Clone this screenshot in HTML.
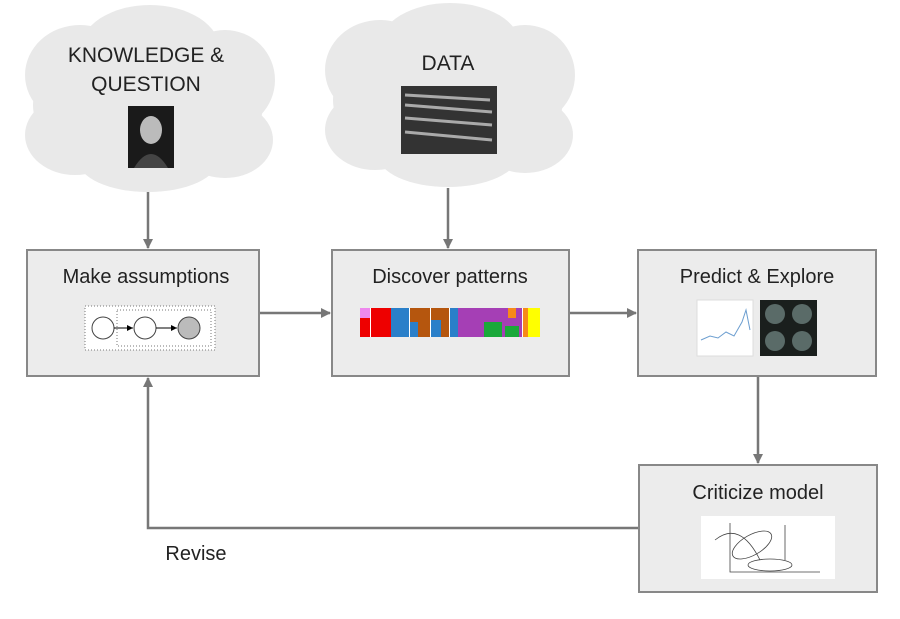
<!DOCTYPE html>
<html><head><meta charset="utf-8"><style>
body{margin:0;background:#fff;}
svg{display:block;font-family:"Liberation Sans",sans-serif;}
</style></head><body>
<svg width="900" height="619" viewBox="0 0 900 619">
<defs>
<marker id="ah" markerWidth="10" markerHeight="10" refX="9" refY="5" orient="auto" markerUnits="userSpaceOnUse"><path d="M0,0 L10,5 L0,10 z" fill="#777"/></marker>
<marker id="sa" markerWidth="6" markerHeight="6" refX="6" refY="3" orient="auto" markerUnits="userSpaceOnUse"><path d="M0,0 L6,3 L0,6 z" fill="#000"/></marker>
</defs>
<!-- clouds -->
<g fill="#e9e9e9">
<ellipse cx="148" cy="105" rx="115" ry="70"/>
<ellipse cx="80" cy="75" rx="55" ry="50"/>
<ellipse cx="150" cy="50" rx="70" ry="45"/>
<ellipse cx="225" cy="80" rx="50" ry="50"/>
<ellipse cx="75" cy="135" rx="50" ry="40"/>
<ellipse cx="148" cy="160" rx="70" ry="32"/>
<ellipse cx="225" cy="140" rx="48" ry="38"/>
<ellipse cx="448" cy="100" rx="115" ry="70"/>
<ellipse cx="380" cy="70" rx="55" ry="50"/>
<ellipse cx="450" cy="45" rx="70" ry="42"/>
<ellipse cx="525" cy="75" rx="50" ry="50"/>
<ellipse cx="375" cy="130" rx="50" ry="40"/>
<ellipse cx="448" cy="155" rx="70" ry="32"/>
<ellipse cx="525" cy="135" rx="48" ry="38"/>
</g>
<text x="146" y="62" font-size="21" text-anchor="middle" fill="#222">KNOWLEDGE &amp;</text>
<text x="146" y="91" font-size="21" text-anchor="middle" fill="#222">QUESTION</text>
<rect x="128" y="106" width="46" height="62" fill="#1a1a1a"/>
<ellipse cx="151" cy="130" rx="11" ry="14" fill="#bbb"/>
<path d="M134,168 Q151,140 168,168z" fill="#444"/>
<text x="448" y="70" font-size="21" text-anchor="middle" fill="#222">DATA</text>
<rect x="401" y="86" width="96" height="68" fill="#333"/>
<path d="M405,95 L490,100 M405,105 L492,112 M405,118 L492,125 M405,132 L492,140" stroke="#aaa" stroke-width="3"/>
<!-- arrows -->
<g stroke="#777" stroke-width="2.5" fill="none">
<line x1="148" y1="192" x2="148" y2="248" marker-end="url(#ah)"/>
<line x1="448" y1="188" x2="448" y2="248" marker-end="url(#ah)"/>
<line x1="260" y1="313" x2="330" y2="313" marker-end="url(#ah)"/>
<line x1="570" y1="313" x2="636" y2="313" marker-end="url(#ah)"/>
<line x1="758" y1="377" x2="758" y2="463" marker-end="url(#ah)"/>
<polyline points="638,528 148,528 148,378" marker-end="url(#ah)"/>
</g>
<!-- boxes -->
<g fill="#ececec" stroke="#888" stroke-width="2">
<rect x="27" y="250" width="232" height="126"/>
<rect x="332" y="250" width="237" height="126"/>
<rect x="638" y="250" width="238" height="126"/>
<rect x="639" y="465" width="238" height="127"/>
</g>
<g font-size="20" text-anchor="middle" fill="#222">
<text x="146" y="283">Make assumptions</text>
<text x="450" y="283">Discover patterns</text>
<text x="757" y="283">Predict &amp; Explore</text>
<text x="758" y="499">Criticize model</text>
<text x="196" y="560">Revise</text>
</g>
<!-- graphical model -->
<rect x="85" y="306" width="130" height="44" fill="#fff" stroke="#777" stroke-dasharray="1,2"/>
<rect x="117" y="310" width="94" height="36" fill="none" stroke="#777" stroke-dasharray="1,2"/>
<circle cx="103" cy="328" r="11" fill="#fff" stroke="#444"/>
<circle cx="145" cy="328" r="11" fill="#fff" stroke="#444"/>
<circle cx="189" cy="328" r="11" fill="#bbb" stroke="#444"/>
<line x1="114" y1="328" x2="133" y2="328" stroke="#000" marker-end="url(#sa)"/>
<line x1="156" y1="328" x2="177" y2="328" stroke="#000" marker-end="url(#sa)"/>
<!-- bar chart -->
<g>
<rect x="360" y="308" width="180" height="29" fill="#fff"/>
<rect x="360" y="308" width="10" height="29" fill="#e8e"/>
<rect x="360" y="318" width="10" height="19" fill="#e00"/>
<rect x="371" y="308" width="28" height="29" fill="#e00"/>
<rect x="391" y="308" width="18" height="29" fill="#2a7fc9"/>
<rect x="410" y="308" width="20" height="29" fill="#b5560e"/>
<rect x="410" y="322" width="8" height="15" fill="#2a7fc9"/>
<rect x="431" y="308" width="18" height="29" fill="#b5560e"/>
<rect x="431" y="320" width="10" height="17" fill="#2a7fc9"/>
<rect x="450" y="308" width="52" height="29" fill="#a53fb5"/>
<rect x="450" y="308" width="8" height="29" fill="#2a7fc9"/>
<rect x="484" y="322" width="18" height="15" fill="#1aa83a"/>
<rect x="502" y="308" width="20" height="29" fill="#a53fb5"/>
<rect x="508" y="308" width="8" height="10" fill="#f78a1a"/>
<rect x="505" y="326" width="14" height="11" fill="#1aa83a"/>
<rect x="523" y="308" width="17" height="29" fill="#ff0"/>
<rect x="523" y="308" width="5" height="29" fill="#f78a1a"/>
</g>
<!-- predict images -->
<rect x="697" y="300" width="56" height="56" fill="#fff" stroke="#ddd"/>
<polyline points="701,340 710,336 718,338 726,332 734,336 742,322 746,310 750,330" fill="none" stroke="#6c9ed0" stroke-width="1"/>
<rect x="760" y="300" width="57" height="56" fill="#1a1f1d"/>
<g fill="#5a6b68"><circle cx="775" cy="314" r="10"/><circle cx="802" cy="314" r="10"/><circle cx="775" cy="341" r="10"/><circle cx="802" cy="341" r="10"/></g>
<!-- criticize image -->
<rect x="701" y="516" width="134" height="63" fill="#fff"/>
<g fill="none" stroke="#444" stroke-width="0.8">
<ellipse cx="752" cy="545" rx="22" ry="10" transform="rotate(-30 752 545)"/>
<ellipse cx="770" cy="565" rx="22" ry="6"/>
<path d="M730,523 L730,572 L820,572 M785,525 L785,560 M715,540 Q740,520 760,560"/>
</g>
</svg>
</body></html>
